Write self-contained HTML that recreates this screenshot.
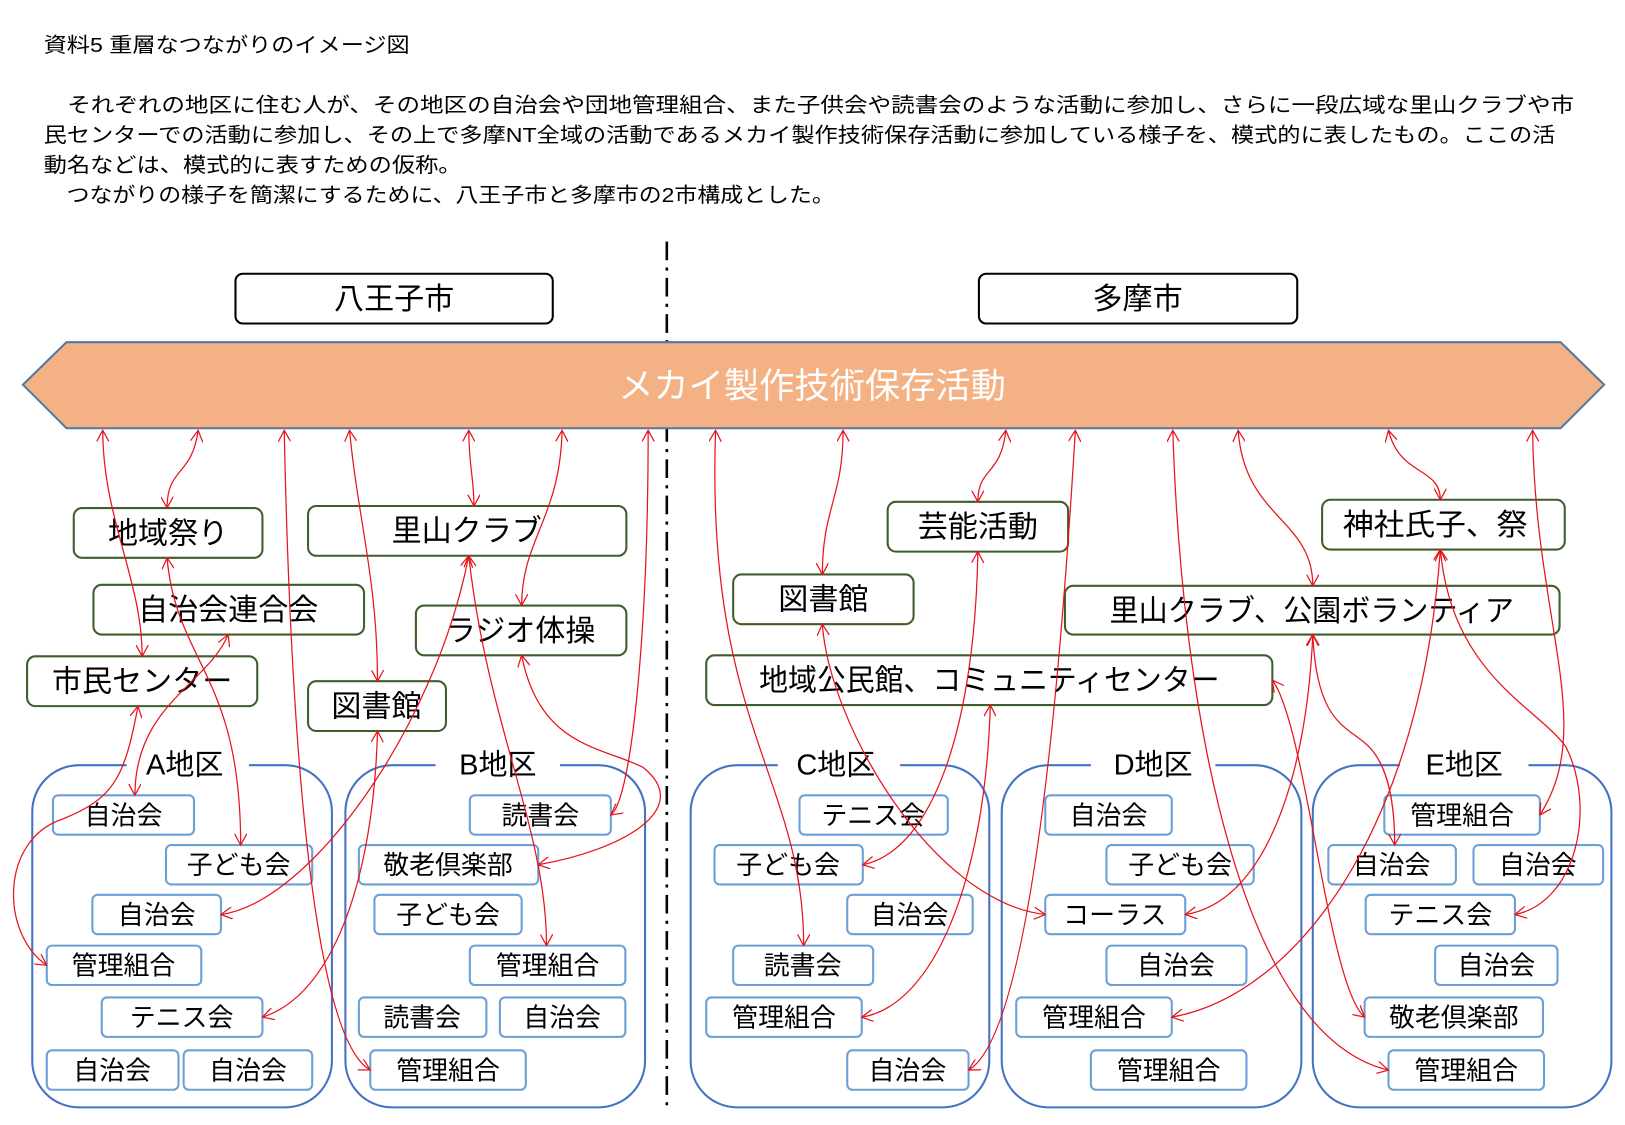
<!DOCTYPE html>
<html><head><meta charset="utf-8"><style>
html,body{margin:0;padding:0;background:#fff;}
svg{display:block;}
text{font-family:"Liberation Sans","Noto Sans CJK JP",sans-serif;fill:#000;}
</style></head><body>
<svg width="1625" height="1125" viewBox="0 0 1567 1085" xmlns="http://www.w3.org/2000/svg">
<defs>
<marker id="a" viewBox="0 0 12 12" refX="11" refY="6" markerWidth="12" markerHeight="12" markerUnits="userSpaceOnUse" orient="auto-start-reverse">
<polyline points="0,0 11,6 0,12" fill="none" stroke="#e8131b" stroke-width="1.2"/>
</marker>
</defs>
<g font-size="20">
<text x="42" y="50" textLength="353" lengthAdjust="spacingAndGlyphs">資料5 重層なつながりのイメージ図</text>
<text x="42" y="108" textLength="1476" lengthAdjust="spacingAndGlyphs">　それぞれの地区に住む人が、その地区の自治会や団地管理組合、また子供会や読書会のような活動に参加し、さらに一段広域な里山クラブや市</text>
<text x="42" y="137" textLength="1458" lengthAdjust="spacingAndGlyphs">民センターでの活動に参加し、その上で多摩NT全域の活動であるメカイ製作技術保存活動に参加している様子を、模式的に表したもの。ここの活</text>
<text x="42" y="166" textLength="403" lengthAdjust="spacingAndGlyphs">動名などは、模式的に表すための仮称。</text>
<text x="42" y="195" textLength="763" lengthAdjust="spacingAndGlyphs">　つながりの様子を簡潔にするために、八王子市と多摩市の2市構成とした。</text>
</g>
<line x1="643" y1="233" x2="643" y2="1072" stroke="#000" stroke-width="2.5" stroke-dasharray="18,7,3,7"/>
<g fill="#fff" stroke="#000" stroke-width="2">
<rect x="227" y="264" width="306" height="48" rx="7"/>
<rect x="944" y="264" width="307" height="48" rx="7"/>
</g>
<g font-size="29" text-anchor="middle">
<text x="380" y="298">八王子市</text>
<text x="1097" y="298">多摩市</text>
</g>
<polygon points="22,371 64,330 1505,330 1547,371 1505,413 64,413" fill="#f4b183" stroke="#4e79a7" stroke-width="2"/>
<text x="783" y="384" font-size="34" text-anchor="middle" style="fill:#fff">メカイ製作技術保存活動</text>

<g fill="#fff" stroke="#3f5e2b" stroke-width="2">
<rect x="71" y="490" width="182" height="48" rx="8"/>
<rect x="297" y="488" width="307" height="48" rx="8"/>
<rect x="90" y="564" width="261" height="48" rx="8"/>
<rect x="401" y="584" width="203" height="48" rx="8"/>
<rect x="26" y="633" width="222" height="48" rx="8"/>
<rect x="297" y="657" width="133" height="48" rx="8"/>
<rect x="856" y="484" width="174" height="48" rx="8"/>
<rect x="707" y="554" width="174" height="48" rx="8"/>
<rect x="1275" y="482" width="234" height="48" rx="8"/>
<rect x="1027" y="565" width="477" height="47" rx="8"/>
<rect x="681" y="632" width="546" height="48" rx="8"/>
</g>
<g font-size="29" text-anchor="middle">
<text x="162" y="524">地域祭り</text>
<text x="450" y="522">里山クラブ</text>
<text x="220" y="598">自治会連合会</text>
<text x="502" y="618">ラジオ体操</text>
<text x="137" y="667">市民センター</text>
<text x="363" y="691">図書館</text>
<text x="943" y="518">芸能活動</text>
<text x="794" y="588">図書館</text>
<text x="1384" y="516" textLength="178" lengthAdjust="spacingAndGlyphs">神社氏子、祭</text>
<text x="1265" y="599" textLength="390" lengthAdjust="spacingAndGlyphs">里山クラブ、公園ボランティア</text>
<text x="954" y="666" textLength="444" lengthAdjust="spacingAndGlyphs">地域公民館、コミュニティセンター</text>
</g>

<g fill="none" stroke="#4472c4" stroke-width="2">
<rect x="31" y="738" width="289" height="330" rx="45"/>
<rect x="333" y="738" width="289" height="330" rx="45"/>
<rect x="666" y="738" width="288" height="330" rx="45"/>
<rect x="966" y="738" width="289" height="330" rx="45"/>
<rect x="1266" y="738" width="288" height="330" rx="45"/>
</g>
<g fill="#fff">
<rect x="122" y="728" width="118" height="20"/>
<rect x="420" y="728" width="120" height="20"/>
<rect x="750" y="728" width="118" height="20"/>
<rect x="1052" y="728" width="120" height="20"/>
<rect x="1350" y="728" width="124" height="20"/>
</g>
<g font-size="28" text-anchor="middle">
<text x="178" y="747">A地区</text>
<text x="480" y="747">B地区</text>
<text x="806" y="747">C地区</text>
<text x="1112" y="747">D地区</text>
<text x="1412" y="747">E地区</text>
</g>

<g fill="#fff" stroke="#6b9fd6" stroke-width="2">
<rect x="51" y="767" width="136" height="38" rx="5"/>
<rect x="160" y="815" width="141" height="38" rx="5"/>
<rect x="89" y="863" width="124" height="38" rx="5"/>
<rect x="45" y="912" width="149" height="38" rx="5"/>
<rect x="98" y="962" width="155" height="38" rx="5"/>
<rect x="45" y="1013" width="127" height="38" rx="5"/>
<rect x="177" y="1013" width="124" height="38" rx="5"/>
<rect x="453" y="767" width="136" height="38" rx="5"/>
<rect x="346" y="815" width="173" height="38" rx="5"/>
<rect x="361" y="863" width="142" height="38" rx="5"/>
<rect x="453" y="912" width="150" height="38" rx="5"/>
<rect x="346" y="962" width="123" height="38" rx="5"/>
<rect x="482" y="962" width="121" height="38" rx="5"/>
<rect x="357" y="1013" width="150" height="38" rx="5"/>
<rect x="771" y="767" width="143" height="38" rx="5"/>
<rect x="689" y="815" width="143" height="38" rx="5"/>
<rect x="817" y="863" width="121" height="38" rx="5"/>
<rect x="707" y="912" width="135" height="38" rx="5"/>
<rect x="681" y="962" width="150" height="38" rx="5"/>
<rect x="817" y="1013" width="117" height="38" rx="5"/>
<rect x="1008" y="767" width="122" height="38" rx="5"/>
<rect x="1067" y="815" width="142" height="38" rx="5"/>
<rect x="1008" y="863" width="135" height="38" rx="5"/>
<rect x="1067" y="912" width="135" height="38" rx="5"/>
<rect x="980" y="962" width="150" height="38" rx="5"/>
<rect x="1052" y="1013" width="150" height="38" rx="5"/>
<rect x="1335" y="767" width="150" height="38" rx="5"/>
<rect x="1281" y="815" width="123" height="38" rx="5"/>
<rect x="1421" y="815" width="125" height="38" rx="5"/>
<rect x="1317" y="863" width="144" height="38" rx="5"/>
<rect x="1384" y="912" width="118" height="38" rx="5"/>
<rect x="1316" y="962" width="172" height="38" rx="5"/>
<rect x="1339" y="1013" width="150" height="38" rx="5"/>
</g>
<g font-size="25" text-anchor="middle">
<text x="119" y="795">自治会</text>
<text x="230" y="843">子ども会</text>
<text x="151" y="891">自治会</text>
<text x="119" y="940">管理組合</text>
<text x="175" y="990">テニス会</text>
<text x="108" y="1041">自治会</text>
<text x="239" y="1041">自治会</text>
<text x="521" y="795">読書会</text>
<text x="432" y="843">敬老倶楽部</text>
<text x="432" y="891">子ども会</text>
<text x="528" y="940">管理組合</text>
<text x="407" y="990">読書会</text>
<text x="542" y="990">自治会</text>
<text x="432" y="1041">管理組合</text>
<text x="842" y="795">テニス会</text>
<text x="760" y="843">子ども会</text>
<text x="877" y="891">自治会</text>
<text x="774" y="940">読書会</text>
<text x="756" y="990">管理組合</text>
<text x="875" y="1041">自治会</text>
<text x="1069" y="795">自治会</text>
<text x="1138" y="843">子ども会</text>
<text x="1075" y="891">コーラス</text>
<text x="1134" y="940">自治会</text>
<text x="1055" y="990">管理組合</text>
<text x="1127" y="1041">管理組合</text>
<text x="1410" y="795">管理組合</text>
<text x="1342" y="843">自治会</text>
<text x="1483" y="843">自治会</text>
<text x="1389" y="891">テニス会</text>
<text x="1443" y="940">自治会</text>
<text x="1402" y="990">敬老倶楽部</text>
<text x="1414" y="1041">管理組合</text>
</g>

<g fill="none" stroke="#e8131b" stroke-width="1.2" marker-start="url(#a)" marker-end="url(#a)">
<path d="M99,415 C99,500 137,560 137,633"/>
<path d="M191,415 C185,460 161,450 161,490"/>
<path d="M274,415 C280,700 300,1000 357,1032"/>
<path d="M337,415 C345,500 364,560 364,657"/>
<path d="M452,415 C452,450 457,460 457,488"/>
<path d="M542,415 C540,500 503,520 503,584"/>
<path d="M625,415 C625,600 610,770 589,786"/>
<path d="M452,536 C420,700 300,870 213,882"/>
<path d="M452,536 C470,700 527,800 527,912"/>
<path d="M161,538 C170,640 232,650 232,815"/>
<path d="M220,612 C200,660 130,680 130,767"/>
<path d="M133,681 C120,750 110,770 60,790 C0,810 0,900 45,931"/>
<path d="M364,705 C360,850 320,960 253,981"/>
<path d="M503,632 C520,720 580,720 620,740 C670,780 600,820 519,834"/>
<path d="M690,415 C680,700 775,750 775,912"/>
<path d="M813,415 C813,480 793,490 793,554"/>
<path d="M970,415 C965,460 943,450 943,484"/>
<path d="M1037,415 C1020,700 990,1000 934,1032"/>
<path d="M1131,415 C1140,700 1200,1000 1339,1032"/>
<path d="M1194,415 C1200,500 1266,500 1266,565"/>
<path d="M1339,415 C1350,460 1389,450 1389,482"/>
<path d="M1478,415 C1480,600 1540,700 1485,786"/>
<path d="M943,532 C940,700 900,820 832,834"/>
<path d="M793,602 C800,700 900,870 1008,882"/>
<path d="M955,680 C950,850 900,970 831,981"/>
<path d="M1227,656 C1260,700 1280,950 1316,981"/>
<path d="M1266,612 C1260,750 1220,870 1143,882"/>
<path d="M1389,530 C1370,800 1250,960 1130,981"/>
<path d="M1266,612 C1270,700 1300,700 1320,720 C1340,740 1345,780 1345,815"/>
<path d="M1389,530 C1400,650 1480,680 1510,720 C1540,780 1520,870 1461,882"/>
</g>
</svg>
</body></html>
